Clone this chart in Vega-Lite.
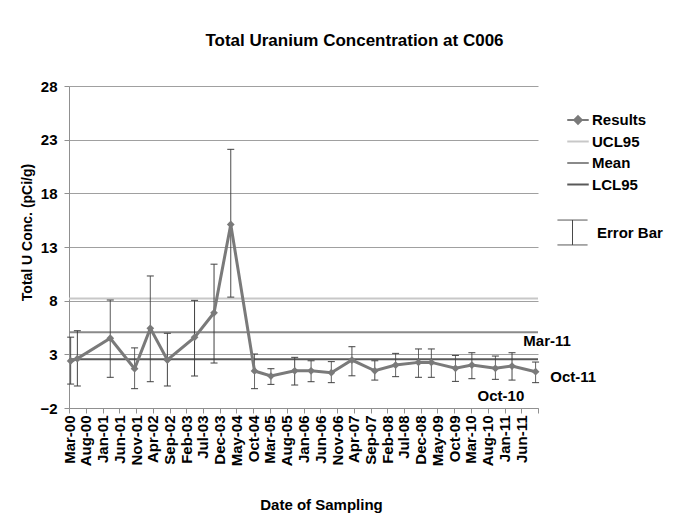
{
  "$schema": "https://vega.github.io/schema/vega-lite/v6.json",
  "width": 469,
  "height": 322,
  "autosize": {"type": "none"},
  "padding": {"left": 69, "top": 86, "right": 156, "bottom": 119},
  "background": "white",
  "title": {"text": "Total Uranium Concentration at C006", "font": "Liberation Sans", "fontSize": 17, "fontWeight": "bold", "color": "black", "anchor": "middle", "dx": 51, "offset": 21, "baseline": "middle"},
  "config": {"view": {"stroke": null}, "font": "Liberation Sans"},
  "datasets": {
    "results": [
      {"date": "2000-03-16T00:00:00", "value": 2.38, "lo": 0.23, "hi": 4.6},
      {"date": "2000-05-16T00:00:00", "value": 2.6, "lo": 0.05, "hi": 5.2},
      {"date": "2001-03-11T00:00:00", "value": 4.5, "lo": 0.86, "hi": 8.06},
      {"date": "2001-10-18T00:00:00", "value": 1.66, "lo": -0.2, "hi": 3.6},
      {"date": "2002-03-10T00:00:00", "value": 5.42, "lo": 0.45, "hi": 10.3},
      {"date": "2002-08-12T00:00:00", "value": 2.47, "lo": 0.05, "hi": 4.96},
      {"date": "2003-04-16T00:00:00", "value": 4.58, "lo": 0.98, "hi": 8.03},
      {"date": "2003-10-10T00:00:00", "value": 6.87, "lo": 2.19, "hi": 11.4},
      {"date": "2004-03-10T00:00:00", "value": 15.1, "lo": 8.33, "hi": 22.1},
      {"date": "2004-10-12T00:00:00", "value": 1.45, "lo": -0.2, "hi": 3.03},
      {"date": "2005-03-10T00:00:00", "value": 0.98, "lo": 0.2, "hi": 1.66},
      {"date": "2005-10-12T00:00:00", "value": 1.47, "lo": 0.14, "hi": 2.72},
      {"date": "2006-03-10T00:00:00", "value": 1.47, "lo": 0.45, "hi": 2.4},
      {"date": "2006-09-10T00:00:00", "value": 1.29, "lo": 0.36, "hi": 2.32},
      {"date": "2007-03-16T00:00:00", "value": 2.47, "lo": 1.0, "hi": 3.71},
      {"date": "2007-10-10T00:00:00", "value": 1.47, "lo": 0.6, "hi": 2.4},
      {"date": "2008-04-16T00:00:00", "value": 2.0, "lo": 0.92, "hi": 3.09},
      {"date": "2008-11-10T00:00:00", "value": 2.25, "lo": 0.86, "hi": 3.5},
      {"date": "2009-03-07T00:00:00", "value": 2.25, "lo": 0.86, "hi": 3.5},
      {"date": "2009-10-12T00:00:00", "value": 1.7, "lo": 0.48, "hi": 2.9},
      {"date": "2010-03-10T00:00:00", "value": 2.0, "lo": 0.73, "hi": 3.15},
      {"date": "2010-10-10T00:00:00", "value": 1.7, "lo": 0.67, "hi": 2.84},
      {"date": "2011-03-10T00:00:00", "value": 1.91, "lo": 0.6, "hi": 3.15},
      {"date": "2011-10-10T00:00:00", "value": 1.38, "lo": 0.36, "hi": 2.28}
    ],
    "limits": [
      {"series": "UCL95", "value": 8.2},
      {"series": "Mean", "value": 5.05},
      {"series": "LCL95", "value": 2.55}
    ],
    "notes": [
      {"label": "Mar-11", "date": "2011-06-21T00:00:00", "value": 4.24},
      {"label": "Oct-11", "date": "2012-02-21T00:00:00", "value": 0.89},
      {"label": "Oct-10", "date": "2010-05-01T00:00:00", "value": -0.88}
    ]
  },
  "layer": [
    {
      "data": {"name": "limits"},
      "mark": {"type": "rule", "strokeWidth": 2},
      "encoding": {
        "y": {
          "field": "value", "type": "quantitative",
          "scale": {"domain": [-2, 28], "nice": false, "zero": false},
          "axis": {
            "values": [-2, 3, 8, 13, 18, 23, 28],
            "grid": true, "gridColor": "#a0a0a0", "gridWidth": 1,
            "domainColor": "#909090", "tickColor": "#909090", "tickSize": 5,
            "labelFont": "Liberation Sans", "labelFontSize": 15, "labelFontWeight": "bold", "labelColor": "black", "labelPadding": 7,
            "title": "Total U Conc. (pCi/g)", "titleFont": "Liberation Sans", "titleFontSize": 14, "titleFontWeight": "bold", "titleColor": "black",
            "titleAngle": -90, "titleAlign": "center", "titleBaseline": "middle", "titleX": -42, "titleY": 146
          }
        },
        "color": {
          "field": "series", "type": "nominal",
          "scale": {"domain": ["Results", "UCL95", "Mean", "LCL95"], "range": ["#7a7a7a", "#c8c8c8", "#8a8a8a", "#595959"]},
          "legend": {
            "orient": "none", "legendX": 497, "legendY": 22, "title": null,
            "symbolType": "stroke", "symbolSize": 462, "symbolStrokeWidth": 2,
            "labelFont": "Liberation Sans", "labelFontSize": 15, "labelFontWeight": "bold", "labelColor": "black",
            "labelOffset": 2, "rowPadding": 1.5, "padding": 0,
            "encode": {"symbols": {"update": {
              "shape": {"signal": "datum.value === 'Results' ? 'M-1,0H1M0,-0.35L0.35,0L0,0.35L-0.35,0Z' : 'M-1,0H1'"},
              "fill": {"signal": "datum.value === 'Results' ? '#7a7a7a' : 'transparent'"}
            }}}
          }
        }
      }
    },
    {
      "data": {"name": "results"},
      "mark": {"type": "rule", "strokeWidth": 1, "color": "#404040"},
      "encoding": {
        "x": {
          "field": "date", "type": "temporal",
          "scale": {"domain": [{"year": 2000, "month": 3, "date": 1}, {"year": 2011, "month": 11, "date": 1}]},
          "axis": {
            "values": [
              {"year": 2000, "month": 3, "date": 1}, {"year": 2000, "month": 8, "date": 1},
              {"year": 2001, "month": 1, "date": 1}, {"year": 2001, "month": 6, "date": 1}, {"year": 2001, "month": 11, "date": 1},
              {"year": 2002, "month": 4, "date": 1}, {"year": 2002, "month": 9, "date": 1},
              {"year": 2003, "month": 2, "date": 1}, {"year": 2003, "month": 7, "date": 1}, {"year": 2003, "month": 12, "date": 1},
              {"year": 2004, "month": 5, "date": 1}, {"year": 2004, "month": 10, "date": 1},
              {"year": 2005, "month": 3, "date": 1}, {"year": 2005, "month": 8, "date": 1},
              {"year": 2006, "month": 1, "date": 1}, {"year": 2006, "month": 6, "date": 1}, {"year": 2006, "month": 11, "date": 1},
              {"year": 2007, "month": 4, "date": 1}, {"year": 2007, "month": 9, "date": 1},
              {"year": 2008, "month": 2, "date": 1}, {"year": 2008, "month": 7, "date": 1}, {"year": 2008, "month": 12, "date": 1},
              {"year": 2009, "month": 5, "date": 1}, {"year": 2009, "month": 10, "date": 1},
              {"year": 2010, "month": 3, "date": 1}, {"year": 2010, "month": 8, "date": 1},
              {"year": 2011, "month": 1, "date": 1}, {"year": 2011, "month": 6, "date": 1}, {"year": 2011, "month": 11, "date": 1}
            ],
            "tickCount": 200,
            "labelExpr": "year(datum.value) == 2011 && month(datum.value) == 10 ? '' : timeFormat(datum.value, '%b-%y')",
            "labelAngle": -90, "labelOverlap": false, "labelFlush": false,
            "labelFont": "Liberation Sans", "labelFontSize": 15, "labelFontWeight": "bold", "labelColor": "black", "labelPadding": 2,
            "grid": false, "domainColor": "#909090", "tickColor": "#909090", "tickSize": 5,
            "title": "Date of Sampling", "titleFont": "Liberation Sans", "titleFontSize": 15, "titleFontWeight": "bold", "titleColor": "black",
            "titleX": 252, "titleY": 96, "titleBaseline": "middle", "titleAlign": "center"
          }
        },
        "y": {"field": "lo", "type": "quantitative", "scale": {"domain": [-2, 28], "nice": false, "zero": false}},
        "y2": {"field": "hi"},
        "strokeDash": {
          "datum": "Error Bar",
          "scale": {"range": [[1, 0]]},
          "legend": {
            "orient": "none", "legendX": 488, "legendY": 131, "title": null,
            "symbolType": "M-1,-0.83H1M0,-0.83V0.83M-1,0.83H1", "symbolSize": 900,
            "symbolStrokeColor": "#404040", "symbolStrokeWidth": 1, "symbolFillColor": "transparent",
            "labelFont": "Liberation Sans", "labelFontSize": 15, "labelFontWeight": "bold", "labelColor": "black",
            "labelOffset": 9, "padding": 0
          }
        }
      }
    },
    {
      "data": {"name": "results"},
      "mark": {"type": "point", "shape": "M-1,0H1", "size": 49, "filled": false, "stroke": "#404040", "strokeWidth": 1, "opacity": 1},
      "encoding": {
        "x": {"field": "date", "type": "temporal", "scale": {"domain": [{"year": 2000, "month": 3, "date": 1}, {"year": 2011, "month": 11, "date": 1}]}},
        "y": {"field": "lo", "type": "quantitative", "scale": {"domain": [-2, 28], "nice": false, "zero": false}}
      }
    },
    {
      "data": {"name": "results"},
      "mark": {"type": "point", "shape": "M-1,0H1", "size": 49, "filled": false, "stroke": "#404040", "strokeWidth": 1, "opacity": 1},
      "encoding": {
        "x": {"field": "date", "type": "temporal", "scale": {"domain": [{"year": 2000, "month": 3, "date": 1}, {"year": 2011, "month": 11, "date": 1}]}},
        "y": {"field": "hi", "type": "quantitative", "scale": {"domain": [-2, 28], "nice": false, "zero": false}}
      }
    },
    {
      "data": {"name": "results"},
      "mark": {"type": "line", "strokeWidth": 3, "point": {"shape": "diamond", "size": 60, "filled": true}},
      "encoding": {
        "x": {"field": "date", "type": "temporal", "scale": {"domain": [{"year": 2000, "month": 3, "date": 1}, {"year": 2011, "month": 11, "date": 1}]}},
        "y": {"field": "value", "type": "quantitative", "scale": {"domain": [-2, 28], "nice": false, "zero": false}},
        "color": {"datum": "Results"}
      }
    },
    {
      "data": {"name": "notes"},
      "mark": {"type": "text", "align": "left", "baseline": "middle", "font": "Liberation Sans", "fontSize": 15, "fontWeight": "bold", "color": "black"},
      "encoding": {
        "x": {"field": "date", "type": "temporal", "scale": {"domain": [{"year": 2000, "month": 3, "date": 1}, {"year": 2011, "month": 11, "date": 1}]}},
        "y": {"field": "value", "type": "quantitative", "scale": {"domain": [-2, 28], "nice": false, "zero": false}},
        "text": {"field": "label"}
      }
    }
  ]
}
